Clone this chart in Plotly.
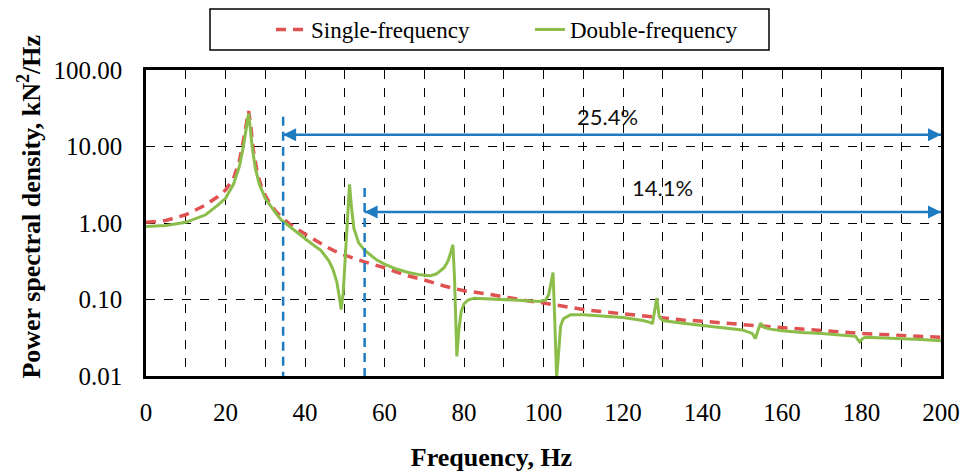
import math
import plotly.graph_objects as go

# ---- data ----
single_f = [0, 5, 10, 15, 18, 20, 22, 23.5, 24.5, 25.3, 25.8, 26.3, 27, 28, 29, 30, 31,
            32.5, 34, 35, 36, 38, 40, 42.5, 45, 47.5, 50, 55, 60, 65, 70, 75, 80, 85, 90,
            95, 100, 105, 110, 115, 120, 125, 130, 135, 140, 145, 150, 155, 160, 165, 170,
            175, 180, 185, 190, 195, 200]
single_psd = [1.02, 1.08, 1.28, 1.72, 2.2, 2.7, 3.8, 6.5, 12, 22, 29, 20, 9, 4.5, 3.0, 2.3, 1.85,
              1.45, 1.2, 1.08, 0.98, 0.83, 0.72, 0.6, 0.5, 0.43, 0.38, 0.31, 0.26, 0.21, 0.18,
              0.15, 0.13, 0.12, 0.108, 0.098, 0.09, 0.081, 0.074, 0.069, 0.065, 0.061, 0.057,
              0.054, 0.052, 0.049, 0.047, 0.045, 0.043, 0.041, 0.039, 0.037, 0.036, 0.035,
              0.034, 0.033, 0.032]

double_f = [0, 5, 10, 15, 18, 20, 22, 23.5, 24.5, 25.3, 25.8, 26.2, 26.7, 27.5, 28.5, 30, 31,
            32.5, 34, 35, 37, 40, 42, 44, 46, 47, 48, 48.6, 49.1, 49.6, 50.2, 50.7, 51.2, 51.7,
            52.3, 53.5, 55, 56.5, 58, 60, 63, 66, 69, 71.5, 73, 75, 76, 76.7, 77.2, 77.6, 78.2,
            78.7, 79.3, 80, 81, 82.5, 85, 90, 95, 99, 100.5, 101.3, 101.9, 102.4, 102.8, 103.3,
            103.8, 104.3, 105, 106.8, 110, 115, 120, 125, 127, 127.4, 128.0, 128.5, 129.1, 130,
            135, 140, 145, 150, 152.5, 153.3, 154, 154.6, 155.5, 157, 160, 165, 170, 175, 178.5,
            179.5, 180.3, 181, 185, 190, 195, 200]
double_psd = [0.90, 0.93, 1.02, 1.28, 1.7, 2.1, 3.2, 5.5, 10, 20, 27, 18, 10, 5.2, 3.2, 2.1, 1.75,
              1.38, 1.1, 1.0, 0.82, 0.62, 0.52, 0.44, 0.32, 0.25, 0.17, 0.11, 0.074, 0.12, 0.4,
              1.3, 3.2, 1.6, 0.85, 0.55, 0.44, 0.38, 0.33, 0.29, 0.25, 0.225, 0.21, 0.205, 0.215,
              0.26, 0.32, 0.42, 0.52, 0.2, 0.018, 0.04, 0.07, 0.088, 0.098, 0.104, 0.103, 0.1,
              0.097, 0.094, 0.098, 0.115, 0.16, 0.225, 0.06, 0.0095, 0.02, 0.045, 0.056, 0.063,
              0.063, 0.061, 0.058, 0.053, 0.05, 0.048, 0.07, 0.105, 0.06, 0.053, 0.049, 0.046,
              0.043, 0.04, 0.036, 0.031, 0.04, 0.049, 0.043, 0.041, 0.039, 0.037, 0.036, 0.034,
              0.033, 0.028, 0.031, 0.032, 0.0315, 0.031, 0.030, 0.029]

marker_f = [34.5, 55]            # blue dashed markers (Hz)
marker_top = [24.5, 2.86]        # top of each marker line (kN^2/Hz)
span_end = 200                   # arrows run to the end of the band (Hz)
span_labels = ["25.4%", "14.1%"]
span_y = [14.2, 1.39]            # arrow heights
label_pos = [(116, 25.0), (130, 2.95)]

x_ticks = list(range(0, 201, 20))
y_tickvals = [0.01, 0.1, 1, 10, 100]
y_ticktext = ["0.01", "0.10", "1.00", "10.00", "100.00"]

x_title = "Frequency, Hz"
y_title = "Power spectral density, kN<sup>2</sup>/Hz"

RED = "#e05252"
GREEN = "#8bbd4a"
BLUE = "#1f7bc0"
SERIF = "Liberation Serif"
NB = "\u00a0"

# plot-area pixel geometry
L, R, T, B = 146, 941, 70, 376
PW, PH = R - L, B - T


def px(xp):
    return (xp - L) / PW


def py(yp):
    return (B - yp) / PH


fig = go.Figure()
fig.add_trace(go.Scatter(x=single_f, y=single_psd, mode="lines", name="Single-frequency",
                         line=dict(color=RED, width=3.5, dash="10px,7px")))
fig.add_trace(go.Scatter(x=double_f, y=double_psd, mode="lines", name="Double-frequency",
                         line=dict(color=GREEN, width=3)))
for xf, yt in zip(marker_f, marker_top):
    fig.add_trace(go.Scatter(x=[xf, xf], y=[yt, 0.01], mode="lines", showlegend=False,
                             hoverinfo="skip", line=dict(color=BLUE, width=2.5, dash="9px,6px")))
# double-headed span arrows
for xf, yv in zip(marker_f, span_y):
    fig.add_trace(go.Scatter(x=[xf, span_end], y=[yv, yv], mode="lines+markers",
                             showlegend=False, hoverinfo="skip", cliponaxis=False,
                             line=dict(color=BLUE, width=2.5),
                             marker=dict(symbol=["arrow-left", "arrow-right"], size=13,
                                         color=BLUE, line=dict(width=0))))

annotations = []
for txt, (xp, yp) in zip(span_labels, label_pos):
    annotations.append(dict(x=xp, y=math.log10(yp), xref="x", yref="y", text=txt,
                            showarrow=False, xanchor="center", yanchor="middle",
                            font=dict(family="Lato", size=22, color="#111111")))

fig.update_layout(
    width=968, height=472,
    margin=dict(l=L, r=968 - R, t=T, b=472 - B, autoexpand=False),
    paper_bgcolor="white", plot_bgcolor="white",
    font=dict(family=SERIF, size=24, color="black"),
    showlegend=True,
    legend=dict(orientation="h", x=px(271), y=py(8),
                xanchor="left", yanchor="top", font=dict(family=SERIF, size=23),
                entrywidth=214, entrywidthmode="pixels", bgcolor="rgba(0,0,0,0)",
                borderwidth=0),
    annotations=annotations,
    shapes=[dict(type="rect", xref="paper", yref="paper",
                 x0=px(210), x1=px(769), y0=py(50), y1=py(9),
                 line=dict(color="black", width=1.5), fillcolor="rgba(0,0,0,0)")],
    xaxis=dict(range=[0, 200], tickvals=x_ticks, showgrid=True, gridcolor="black",
               griddash="dash", gridwidth=1.3, zeroline=False, automargin=False,
               minor=dict(dtick=10, tick0=0, showgrid=True, gridcolor="black",
                          griddash="dash", gridwidth=1.3),
               showline=True, linecolor="black", linewidth=2.5, mirror=True,
               ticks="", ticklabelstandoff=12, tickfont=dict(family=SERIF, size=25),
               title=dict(text="<b>" + x_title + NB * 16 + "</b>", standoff=27,
                          font=dict(family=SERIF, size=26, color="black"))),
    yaxis=dict(type="log", range=[-2, 2], tickvals=y_tickvals, ticktext=y_ticktext,
               showgrid=True, gridcolor="black", griddash="dash", gridwidth=1.3,
               zeroline=False, showline=True, linecolor="black", linewidth=2.5, mirror=True,
               automargin=False,
               ticks="", ticklabelstandoff=16, tickfont=dict(family=SERIF, size=25),
               title=dict(text="<b>" + NB * 5 + y_title + "</b>", standoff=6,
                          font=dict(family=SERIF, size=26, color="black"))),
)

fig.write_html("out.html", config={"displayModeBar": False},
               post_script="document.body.style.margin='0px';")
